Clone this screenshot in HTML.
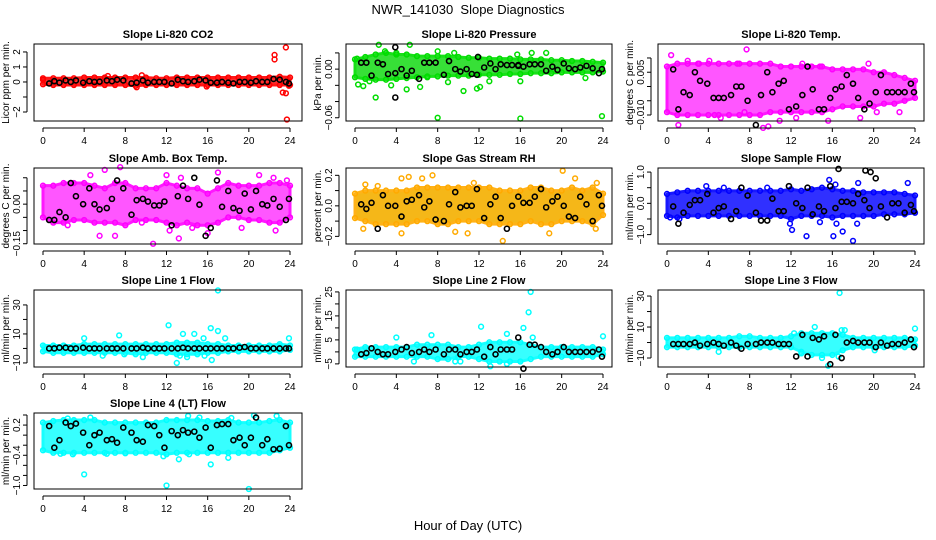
<!DOCTYPE html>
<html><head><meta charset="utf-8"><style>
html,body{margin:0;padding:0;background:#fff;}
svg{display:block;font-family:"Liberation Sans",Arial,sans-serif;}
</style></head><body>
<svg id="chart" width="936" height="540" viewBox="0 0 936 540" xmlns="http://www.w3.org/2000/svg">
<rect width="936" height="540" fill="#fff"/>
<text x="468" y="14" text-anchor="middle" font-size="13">NWR_141030&#160; Slope Diagnostics</text>
<text x="468" y="530" text-anchor="middle" font-size="13">Hour of Day (UTC)</text>
</svg>
<script>
const hours=[0,1,2,3,4,5,6,7,8,9,10,11,12,13,14,15,16,17,18,19,20,21,22,23,24];
const blkHours=[0.6,1.1,1.6,2.2,2.7,3.2,3.9,4.5,5,5.5,6.2,6.7,7.2,7.8,8.6,9.1,9.7,10.2,10.8,11.3,11.8,12.5,13.1,13.6,14.1,14.7,15.2,15.8,16.3,16.9,17.4,18,18.5,19.1,19.6,20.2,20.7,21.3,21.8,22.4,23,23.6,23.9];
const xTicks=[0,4,8,12,16,20,24];

const co2Lo=[-0.15,-0.2,-0.2,-0.2,-0.2,-0.2,-0.2,-0.2,-0.2,-0.25,-0.2,-0.2,-0.2,-0.2,-0.2,-0.2,-0.2,-0.2,-0.2,-0.2,-0.2,-0.2,-0.2,-0.2,-0.2];
const co2Hi=[0.25,0.25,0.25,0.25,0.3,0.3,0.3,0.3,0.3,0.3,0.3,0.25,0.25,0.3,0.3,0.3,0.3,0.3,0.3,0.3,0.3,0.3,0.3,0.35,0.3];
const co2Out=[[22.5,1.8],[22.5,1.5],[23.6,2.3],[23.3,-0.7],[23.6,-0.75],[23.7,-2.5],[9.6,0.45],[6.3,0.4],[15.9,-0.3],[9.1,-0.35],[0,0.15],[23.9,-0.25]];
const co2Blk=[-0.1,0.05,-0.05,0.1,0,0.1,-0.05,0.05,0,0.02,0.1,0.05,0.15,0.1,-0.1,-0.05,0.1,-0.05,0,0,0,-0.1,0.15,0.05,0,0.05,0.15,0.1,-0.05,-0.05,0,-0.05,-0.1,0,0,-0.05,0.05,0,0,0.2,0.15,0,-0.1];

const presLo=[-0.01,-0.012,-0.013,-0.013,-0.012,-0.011,-0.01,-0.009,-0.009,-0.008,-0.008,-0.008,-0.007,-0.007,-0.007,-0.006,-0.006,-0.005,-0.005,-0.005,-0.004,-0.004,-0.004,-0.004,-0.003];
const presHi=[0.012,0.015,0.018,0.02,0.018,0.018,0.016,0.016,0.016,0.016,0.015,0.014,0.014,0.013,0.013,0.013,0.012,0.012,0.012,0.011,0.011,0.01,0.01,0.009,0.008];
const presOut=[[2.3,0.03],[5.3,0.03],[8,0.022],[18.5,0.02],[2,-0.035],[5,-0.025],[6.3,-0.022],[10.5,-0.027],[11.8,-0.024],[12.1,-0.022],[8,-0.06],[16,-0.061],[23.9,-0.058],[0.3,-0.019],[0.8,-0.021],[3.5,-0.02],[9,-0.016],[13,-0.015],[16,-0.015],[22.3,-0.011],[1.4,-0.015],[7,-0.01],[0.2,0.013],[4,0.02],[2.9,0.022],[9.6,0.02],[15.7,0.018],[17.1,0.02]];
const presBlk=[0.008,0.008,-0.008,0.008,0.006,-0.006,-0.005,0,-0.008,-0.002,-0.012,0.008,0.008,0.008,-0.007,0.01,0,-0.003,0,-0.006,-0.007,0.002,0.007,0,0.006,0.005,0.005,0.005,0.003,0.006,0.006,0.006,-0.002,0.003,-0.001,0.007,0.001,0,0.002,0.004,0.001,-0.005,0];
const presBlkX=[[3.9,-0.035],[3.9,0.027],[11.9,0.015],[15.8,0.004]];

const tempLo=[-0.009,-0.01,-0.01,-0.01,-0.01,-0.01,-0.01,-0.01,-0.01,-0.01,-0.009,-0.009,-0.009,-0.009,-0.009,-0.009,-0.008,-0.007,-0.007,-0.007,-0.007,-0.006,-0.006,-0.005,-0.004];
const tempHi=[0.007,0.008,0.008,0.008,0.008,0.008,0.008,0.008,0.008,0.008,0.008,0.007,0.007,0.007,0.007,0.007,0.006,0.006,0.006,0.006,0.005,0.005,0.004,0.003,0.002];
const tempOut=[[0.4,0.011],[7.7,0.013],[13.1,0.008],[19.5,0.008],[1.1,-0.0135],[9.3,-0.0145],[9.8,-0.014],[7.5,-0.009],[4.6,-0.01],[5.2,-0.011],[10.9,-0.012],[12.5,-0.011],[15.6,-0.012],[18.7,-0.011],[2,0.009],[4.1,0.009],[14.8,0.007],[3.1,0.008],[6.8,0.008],[20.3,-0.009],[22.5,-0.009]];
const tempBlk=[0.006,-0.008,-0.002,-0.003,0.005,0.002,0.001,-0.004,-0.004,-0.004,-0.003,0,0,-0.005,-0.0135,-0.003,0.005,-0.002,0.001,0.002,-0.008,-0.007,-0.003,0.007,-0.001,-0.008,-0.008,-0.004,-0.001,0,0.004,0.001,-0.004,-0.008,-0.006,-0.002,0.004,-0.002,-0.002,-0.002,-0.002,0.001,-0.002];

const ambLo=[-0.05,-0.07,-0.07,-0.06,-0.06,-0.07,-0.07,-0.07,-0.08,-0.06,-0.06,-0.06,-0.07,-0.08,-0.07,-0.08,-0.08,-0.07,-0.05,-0.05,-0.06,-0.06,-0.07,-0.07,-0.05];
const ambHi=[0.07,0.07,0.08,0.08,0.08,0.07,0.06,0.08,0.08,0.06,0.06,0.06,0.08,0.07,0.06,0.06,0.04,0.06,0.08,0.07,0.07,0.07,0.08,0.08,0.07];
const ambOut=[[6,0.13],[7.5,0.14],[17,0.12],[21,0.11],[22.4,0.1],[23.7,0.09],[5.5,-0.12],[7,-0.12],[10.7,-0.15],[12.3,-0.1],[13.2,-0.13],[16,-0.11],[19.3,-0.09],[22.6,-0.1],[2.4,-0.08],[4.6,0.11],[12,0.11],[13.4,0.1],[9.6,-0.07],[14.5,-0.09]];
const ambBlk=[-0.06,-0.06,-0.03,-0.05,0.08,0.03,0,0.06,0,-0.02,-0.015,0.02,0.09,0.06,-0.04,0.015,0.02,0.01,-0.005,-0.005,0.01,-0.08,0.03,0.07,0.02,0.1,-0.002,-0.12,-0.09,0.09,-0.01,0.05,-0.015,-0.025,0.04,-0.02,0.05,0,-0.005,0.02,-0.01,-0.06,0.02];

const rhLo=[-0.08,-0.1,-0.12,-0.12,-0.12,-0.12,-0.1,-0.1,-0.12,-0.12,-0.1,-0.1,-0.1,-0.12,-0.12,-0.12,-0.12,-0.1,-0.12,-0.12,-0.1,-0.1,-0.1,-0.12,-0.06];
const rhHi=[0.08,0.1,0.1,0.1,0.1,0.1,0.12,0.12,0.12,0.12,0.12,0.12,0.12,0.12,0.1,0.1,0.1,0.12,0.12,0.1,0.1,0.12,0.1,0.12,0.08];
const rhOut=[[0.8,-0.15],[1,0.14],[4.5,-0.18],[4.5,0.18],[5.2,0.19],[6.5,0.18],[7.5,0.2],[9.7,-0.17],[10.9,-0.18],[14.3,-0.23],[18.8,-0.18],[20.1,0.23],[21.3,0.18],[23.4,0.15],[23.3,-0.15],[2.2,0.13],[11.5,0.15]];
const rhBlk=[0.01,-0.02,0.02,-0.15,0.07,0,0,-0.07,0.03,0.04,0.07,-0.01,0.03,-0.09,-0.1,0.01,0.09,-0.01,0,0,0.11,-0.08,0.01,0.06,-0.08,-0.15,0,0.06,0.02,0.02,0.06,0.11,-0.01,0.03,0.06,0,-0.07,-0.08,0.06,0.01,-0.1,0.07,0];

const smpLo=[-0.4,-0.45,-0.4,-0.4,-0.4,-0.4,-0.4,-0.4,-0.4,-0.4,-0.4,-0.4,-0.5,-0.4,-0.4,-0.4,-0.45,-0.4,-0.4,-0.4,-0.4,-0.35,-0.35,-0.35,-0.3];
const smpHi=[0.3,0.35,0.4,0.4,0.4,0.4,0.4,0.4,0.4,0.4,0.4,0.4,0.45,0.4,0.45,0.5,0.45,0.4,0.4,0.35,0.35,0.35,0.35,0.3,0.25];
const smpOut=[[0.3,-0.45],[1.2,-0.5],[11.9,-0.65],[12.1,-0.85],[13.5,-1.05],[16.1,-1.05],[16.4,-0.65],[17,-0.9],[18,-1.2],[18.4,-0.65],[15.7,0.75],[16.3,0.6],[18.5,0.65],[23.3,0.65],[14.8,-0.6],[9.7,0.5],[3.8,0.55],[5.5,0.5]];
const smpBlk=[-0.1,-0.65,-0.3,-0.05,0.1,0.1,0.3,-0.3,-0.15,-0.1,-0.5,-0.25,0.5,0.25,-0.3,-0.55,-0.55,0.15,-0.25,-0.25,0.55,0,-0.15,0.5,-0.35,-0.1,-0.25,0.55,-0.15,0.05,0.05,0,0.3,0.1,-0.15,0.8,-0.1,-0.45,0,0,-0.3,-0.05,-0.25];
const smpBlkX=[[16.6,1.1],[19.2,1.05],[19.7,1.0]];

const l1Lo=[-2,-3,-3,-3,-3,-3,-3,-3,-3,-4,-3,-3,-3,-4,-4,-4,-3,-3,-2,-2,-2,-2,-2,-2,-1];
const l1Hi=[2,2,2,2,3,3,3,3,3,3,3,3,3,4,4,4,3,3,2,2,2,2,2,3,2];
const l1Out=[[17,40],[12.2,16],[16.3,14],[17,12],[13.6,10],[14.7,10],[7.4,9],[4,7],[9.7,-6],[13,-10],[13.3,-5],[14,-6],[15.7,-5],[16.4,-8],[5.8,-5],[7.9,-4],[23.9,7],[17.7,7],[15.6,7]];
const l1Blk=[0,0,0.5,0.5,0,0,0.5,0,0,0,0,0,0,0,0,0,0.5,0,0,0,0,0,0,0.5,0,0,0,0,0,0,0,0,0,0.5,1,0,0,0,0,0,0,0,0];

const l2Lo=[-2,-2,-2,-2,-2,-2,-2,-2,-3,-3,-2,-2,-3,-4,-4,-4,-4,-3,-2,-2,-2,-2,-2,-2,-1];
const l2Hi=[1,2,2,2,2,2,3,3,3,3,2,2,3,4,4,4,4,3,2,2,2,2,2,2,1];
const l2Out=[[17,25],[16.8,16.5],[16.3,10],[12.2,10.5],[14.7,7.5],[7.4,7],[4,6],[24,6.5],[17.2,6],[9.7,-4],[10.2,-4],[5.7,-4],[13.1,-6],[14.7,-5],[0.2,1]];
const l2Blk=[-1,-0.5,1.5,0,-1,-1,0,1,2,-0.5,0,1,0,1,-1,1,1,-1,0,0,1,-2,2,-1,1,1,1,6,-7,3,3,2,0,-1,0,2,0,0,0,0,0,1,-2];

const l3Lo=[-3,-3,-3,-3,-3,-3,-3,-3,-3,-3,-3,-3,-3,-6,-8,-8,-8,-5,-3,-3,-3,-3,-3,-3,-2];
const l3Hi=[3,3,3,3,3,3,3,4,4,3,3,3,4,6,6,6,6,5,3,3,3,3,3,3,2];
const l3Out=[[16.7,32],[14.3,10],[16.9,8],[17.2,8],[12.3,6],[15,-10],[15.6,-15],[16.6,-9],[13,-7],[5,-6],[20.1,-5],[24,9]];
const l3Blk=[-1,-1,-1,-1,0,-2,-1,0,-1,-2,0,-2,-4,-1,-1,0,0,0,-1,-1,-1,-9,5,-9,3,2,4,-14,5,-10,0,1,0,0,0,-3,0,-2,-1,-1,0,2,-3];

const l4Lo=[-0.3,-0.35,-0.35,-0.35,-0.35,-0.35,-0.35,-0.35,-0.35,-0.35,-0.35,-0.35,-0.38,-0.35,-0.35,-0.35,-0.35,-0.35,-0.35,-0.35,-0.35,-0.35,-0.35,-0.3,-0.25];
const l4Hi=[0.25,0.28,0.3,0.3,0.3,0.3,0.25,0.25,0.25,0.25,0.25,0.25,0.3,0.3,0.3,0.3,0.28,0.28,0.3,0.25,0.25,0.25,0.28,0.3,0.25];
const l4Out=[[4,-0.78],[12,-1.0],[20,-1.07],[16.3,-0.58],[18,-0.45],[13.2,-0.48],[1.7,-0.37],[2.9,-0.38],[6.2,-0.37],[8,-0.36],[11.7,-0.42],[14.2,-0.38],[2.4,0.33],[4.6,0.35],[14.1,0.38],[15.2,0.35],[22.7,0.38],[20.5,0.39],[18.3,0.34]];
const l4Blk=[0.18,-0.25,-0.1,0.25,0.18,0.23,0.05,-0.2,0,0.05,-0.1,-0.08,-0.15,0.15,0.05,-0.1,-0.13,0.2,0.18,0,-0.25,0.08,0,0.1,0.05,0.07,-0.05,0.15,-0.25,0.2,0.22,0.22,-0.1,-0.05,-0.2,-0.05,0.35,-0.2,-0.08,-0.28,-0.27,0.18,-0.2];

const co2Ticks=[-2,-1,0,1,2];const co2Labels=["\u22122","","0","1","2"];
const presTicks=[-0.06,-0.04,-0.02,0,0.02];const presLabels=["\u22120.06","","","0.00",""];
const tempTicks=[-0.01,-0.005,0,0.005,0.01];const tempLabels=["\u22120.010","","","0.005",""];
const ambTicks=[-0.15,-0.1,-0.05,0,0.05,0.1];const ambLabels=["\u22120.15","","","0.00","",""];
const rhTicks=[-0.2,-0.1,0,0.1,0.2];const rhLabels=["\u22120.2","","0.0","","0.2"];
const smpTicks=[-1,-0.5,0,0.5,1];const smpLabels=["\u22121.0","","0.0","","1.0"];
const l1Ticks=[-10,0,10,20,30];const l1Labels=["\u221210","","10","","30"];
const l2Ticks=[-5,0,5,10,15,20,25];const l2Labels=["\u22125","","5","","15","","25"];
const l3Ticks=[-10,0,10,20,30];const l3Labels=["\u221210","","10","","30"];
const l4Ticks=[-1.0,-0.8,-0.6,-0.4,-0.2,0,0.2,0.4];const l4Labels=["\u22121.0","","","\u22120.4","","","0.2",""];

const cols=[{l:34,r:302,x0:43,x24:290},{l:346,r:612,x0:355,x24:603},{l:658,r:924,x0:667,x24:915}];
const rows=[{t:44,b:121},{t:168,b:244},{t:290,b:367},{t:413,b:489}];

const panelDefs=[
 {name:"co2",title:"Slope Li-820 CO2",ylab:"Licor ppm per min.",c:0,r:0,ymin:-2.6,ymax:2.53,col:"#ff0000",fill:"#ff1a1a",lo:co2Lo,hi:co2Hi,out:co2Out,blk:co2Blk,bx:[],ticks:co2Ticks,labels:co2Labels},
 {name:"pressure",title:"Slope Li-820 Pressure",ylab:"kPa per min.",c:1,r:0,ymin:-0.064,ymax:0.031,col:"#00dd00",fill:"#22dd22",lo:presLo,hi:presHi,out:presOut,blk:presBlk,bx:presBlkX,ticks:presTicks,labels:presLabels},
 {name:"temp",title:"Slope Li-820 Temp.",ylab:"degrees C per min.",c:2,r:0,ymin:-0.0121,ymax:0.0149,col:"#ff00ff",fill:"#ff44ff",lo:tempLo,hi:tempHi,out:tempOut,blk:tempBlk,bx:[],ticks:tempTicks,labels:tempLabels},
 {name:"amb-box-temp",title:"Slope Amb. Box Temp.",ylab:"degrees C per min.",c:0,r:1,ymin:-0.151,ymax:0.137,col:"#ff00ff",fill:"#ff44ff",lo:ambLo,hi:ambHi,out:ambOut,blk:ambBlk,bx:[],ticks:ambTicks,labels:ambLabels},
 {name:"gas-stream-rh",title:"Slope Gas Stream RH",ylab:"percent per min.",c:1,r:1,ymin:-0.25,ymax:0.248,col:"#ffaa00",fill:"#f5b000",lo:rhLo,hi:rhHi,out:rhOut,blk:rhBlk,bx:[],ticks:rhTicks,labels:rhLabels},
 {name:"sample-flow",title:"Slope Sample Flow",ylab:"ml/min per min.",c:2,r:1,ymin:-1.3,ymax:1.13,col:"#0000ff",fill:"#1a1aff",lo:smpLo,hi:smpHi,out:smpOut,blk:smpBlk,bx:smpBlkX,ticks:smpTicks,labels:smpLabels},
 {name:"line1-flow",title:"Slope Line 1 Flow",ylab:"ml/min per min.",c:0,r:2,ymin:-12.8,ymax:40.3,col:"#00ffff",fill:"#22ffff",lo:l1Lo,hi:l1Hi,out:l1Out,blk:l1Blk,bx:[],ticks:l1Ticks,labels:l1Labels},
 {name:"line2-flow",title:"Slope Line 2 Flow",ylab:"ml/min per min.",c:1,r:2,ymin:-6.3,ymax:25.8,col:"#00ffff",fill:"#22ffff",lo:l2Lo,hi:l2Hi,out:l2Out,blk:l2Blk,bx:[],ticks:l2Ticks,labels:l2Labels},
 {name:"line3-flow",title:"Slope Line 3 Flow",ylab:"ml/min per min.",c:2,r:2,ymin:-15.8,ymax:33.9,col:"#00ffff",fill:"#22ffff",lo:l3Lo,hi:l3Hi,out:l3Out,blk:l3Blk,bx:[],ticks:l3Ticks,labels:l3Labels},
 {name:"line4-flow",title:"Slope Line 4 (LT) Flow",ylab:"ml/min per min.",c:0,r:3,ymin:-1.07,ymax:0.44,col:"#00ffff",fill:"#22ffff",lo:l4Lo,hi:l4Hi,out:l4Out,blk:l4Blk,bx:[],ticks:l4Ticks,labels:l4Labels}
];

const NS="http://www.w3.org/2000/svg";
const svg=document.getElementById('chart');
function mk(tag,attrs,parent){const e=document.createElementNS(NS,tag);for(const k in attrs)e.setAttribute(k,attrs[k]);(parent||svg).appendChild(e);return e;}

panelDefs.forEach(p=>{
  const C=cols[p.c],R=rows[p.r];
  const xs=h=>C.x0+(C.x24-C.x0)*h/24;
  const ys=v=>R.b-(v-p.ymin)/(p.ymax-p.ymin)*(R.b-R.t);
  const g=mk('g',{});
  
  
  const t=mk('text',{x:(C.l+C.r)/2,y:R.t-6,'text-anchor':'middle','font-size':'11','font-weight':'bold'},g);
  
  
  t.textContent=p.title;
  const cx=C.l-25, cy=(R.t+R.b)/2;
  const yl=mk('text',{x:cx,y:cy,'text-anchor':'middle','font-size':'10',transform:`rotate(-90 ${cx} ${cy})`},g);
  
  
  yl.textContent=p.ylab;
  let d='M'+hours.map((h,i)=>xs(h)+','+ys(p.hi[i])).join(' L');
  d+=' L'+hours.slice().reverse().map((h,j)=>{const i=hours.length-1-j;return xs(h)+','+ys(p.lo[i]);}).join(' L')+' Z';
  const band=mk('path',{d:d,fill:p.fill,stroke:p.col,'stroke-width':'3','stroke-linejoin':'round',opacity:'0.9'},g);
  
  
  hours.forEach((h,i)=>{
    [p.lo[i],p.hi[i]].forEach(v=>{
      const c=mk('circle',{cx:xs(h),cy:ys(v),r:2.4,fill:'none',stroke:p.col,'stroke-width':'1.5'},g);
      
      
    });
  });
  p.out.forEach(pt=>{
    const c=mk('circle',{cx:xs(pt[0]),cy:ys(pt[1]),r:2.4,fill:'none',stroke:p.col,'stroke-width':'1.5'},g);
    
    
  });
  const blkPts=blkHours.map((h,i)=>[h,p.blk[i]]).filter(q=>q[1]!==undefined).concat(p.bx);
  blkPts.forEach(pt=>{
    const c=mk('circle',{cx:xs(pt[0]),cy:ys(pt[1]),r:2.5,fill:'none',stroke:'#000','stroke-width':'1.6'},g);
    
    
  });
  const box=mk('rect',{x:C.l,y:R.t,width:C.r-C.l,height:R.b-R.t,fill:'none',stroke:'#000','stroke-width':'1'},g);
  
  
  const xa=mk('g',{},g);
  
  
  mk('line',{x1:xs(0),x2:xs(24),y1:R.b+7,y2:R.b+7,stroke:'#000'},xa);
  xTicks.forEach(v=>{
    mk('line',{x1:xs(v),x2:xs(v),y1:R.b+7,y2:R.b+11,stroke:'#000'},xa);
    const tl=mk('text',{x:xs(v),y:R.b+23,'text-anchor':'middle','font-size':'10'},xa);
    
    
    tl.textContent=v;
  });
  const ya=mk('g',{},g);
  
  
  const ax=C.l-7;
  const vis=p.ticks.filter(v=>ys(v)>=R.t-1&&ys(v)<=R.b+1);
  mk('line',{x1:ax,x2:ax,y1:ys(Math.min(...vis)),y2:ys(Math.max(...vis)),stroke:'#000'},ya);
  p.ticks.forEach((v,i)=>{
    const y=ys(v); if(y<R.t-1||y>R.b+1)return;
    mk('line',{x1:ax-4,x2:ax,y1:y,y2:y,stroke:'#000'},ya);
    if(p.labels[i]){
      const lx=ax-7;
      const tl=mk('text',{x:lx,y:y,'text-anchor':'middle','font-size':'10',transform:`rotate(-90 ${lx} ${y})`},ya);
      
      
      tl.textContent=p.labels[i];
    }
  });
});
</script>
</body></html>
